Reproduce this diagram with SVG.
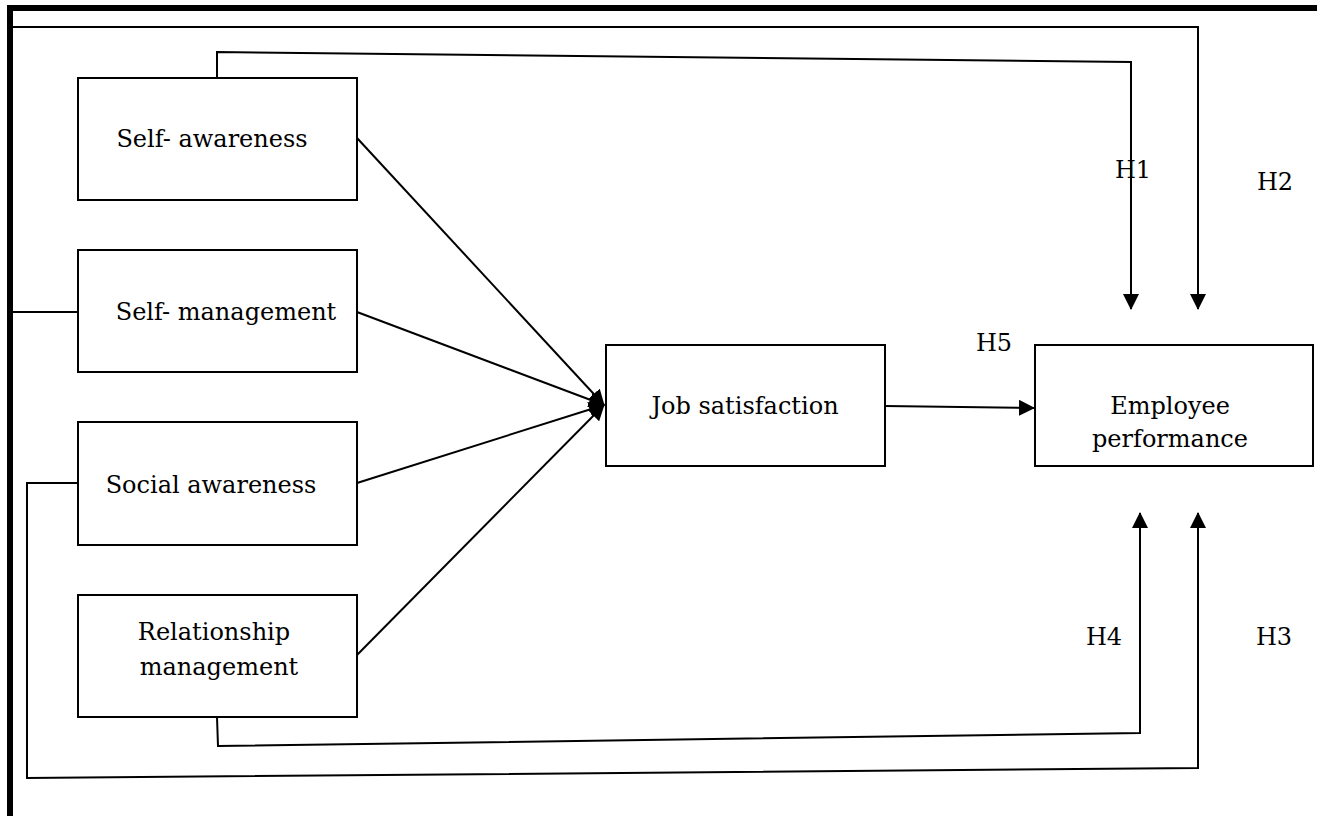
<svg xmlns="http://www.w3.org/2000/svg" width="1317" height="816" viewBox="0 0 1317 816">
<style>
.box{fill:#fff;stroke:#000;stroke-width:2}
.t{font-family:"DejaVu Serif","Liberation Serif",serif;font-size:24px;fill:#000;text-anchor:middle}
.c{fill:none;stroke:#000;stroke-width:2}
.frame{fill:none;stroke:#000;stroke-width:6;stroke-linejoin:miter}
</style>
<defs>
<marker id="ah" markerWidth="16" markerHeight="16" viewBox="0 0 16 16" refX="15" refY="8" orient="auto" markerUnits="userSpaceOnUse">
<path d="M0,0 L16,8 L0,16 Z" fill="#000"/>
</marker>
</defs>
<rect width="1317" height="816" fill="#fff"/>
<g id="frame">
<path class="frame" d="M1317,8 H10 V816"/>
</g>
<g id="connectors">
<polyline class="c" points="13,27 1198,27 1198,309" marker-end="url(#ah)"/>
<polyline class="c" points="217,78 217,52 1131,62 1131,309" marker-end="url(#ah)"/>
<line class="c" x1="13" y1="312" x2="78" y2="312"/>
<polyline class="c" points="78,483 27,483 27,778 1198,768 1198,513" marker-end="url(#ah)"/>
<polyline class="c" points="217,717 218,746 1140,733 1140,513" marker-end="url(#ah)"/>
<line class="c" x1="357" y1="138" x2="604" y2="405" marker-end="url(#ah)"/>
<line class="c" x1="357" y1="312" x2="604" y2="405" marker-end="url(#ah)"/>
<line class="c" x1="357" y1="483" x2="604" y2="405" marker-end="url(#ah)"/>
<line class="c" x1="357" y1="655" x2="604" y2="405" marker-end="url(#ah)"/>
<line class="c" x1="885" y1="406" x2="1034" y2="408" marker-end="url(#ah)"/>
</g>
<g id="self-awareness">
<rect class="box" x="78" y="78" width="279" height="122"/>
<text class="t" x="212" y="147">Self- awareness</text>
</g>
<g id="self-management">
<rect class="box" x="78" y="250" width="279" height="122"/>
<text class="t" x="226" y="320">Self- management</text>
</g>
<g id="social-awareness">
<rect class="box" x="78" y="422" width="279" height="123"/>
<text class="t" x="211" y="493">Social awareness</text>
</g>
<g id="relationship-management">
<rect class="box" x="78" y="595" width="279" height="122"/>
<text class="t" x="214" y="640">Relationship</text>
<text class="t" x="219" y="675">management</text>
</g>
<g id="job-satisfaction">
<rect class="box" x="606" y="345" width="279" height="121"/>
<text class="t" x="745" y="414">Job satisfaction</text>
</g>
<g id="employee-performance">
<rect class="box" x="1035" y="345" width="278" height="121"/>
<text class="t" x="1170" y="414">Employee</text>
<text class="t" x="1170" y="447">performance</text>
</g>
<g id="labels">
<text class="t" x="1133" y="178">H1</text>
<text class="t" x="1275" y="190">H2</text>
<text class="t" x="994" y="351">H5</text>
<text class="t" x="1104" y="645">H4</text>
<text class="t" x="1274" y="645">H3</text>
</g>
</svg>
